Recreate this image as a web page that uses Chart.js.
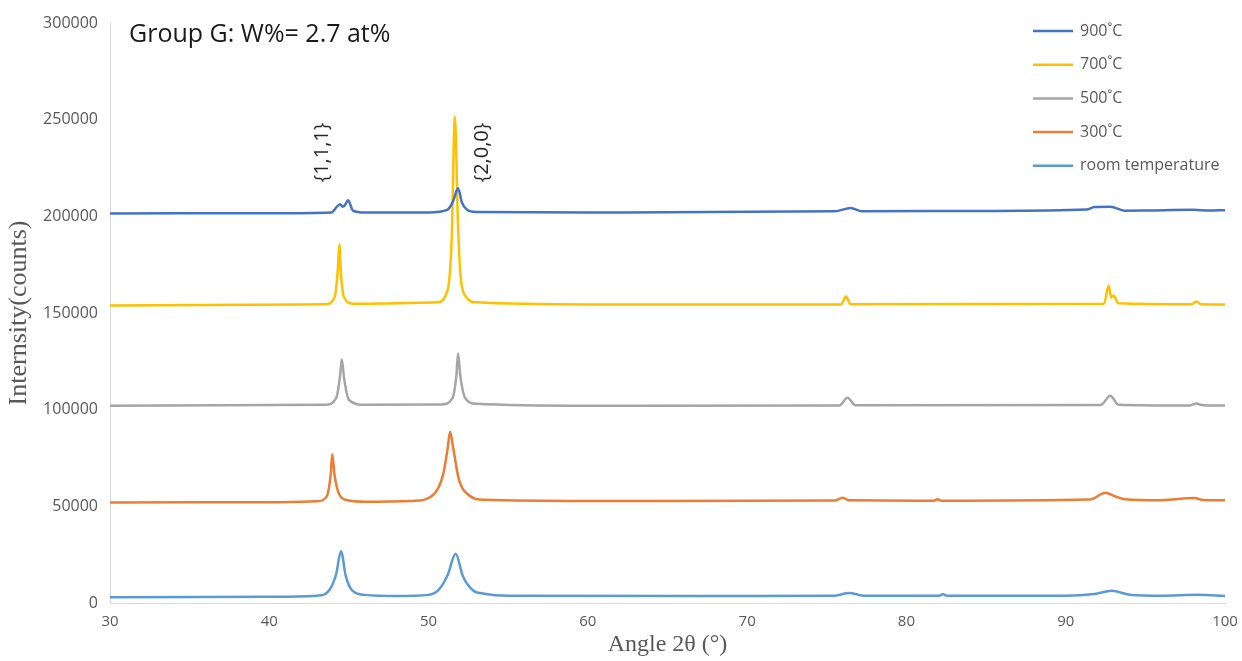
<!DOCTYPE html>
<html>
<head>
<meta charset="utf-8">
<script src="https://cdn.jsdelivr.net/npm/chart.js@4.4.1/dist/chart.umd.min.js"></script>
<style>
  html, body { margin: 0; padding: 0; background: #fff; }
  #wrap { width: 1242px; height: 661px; position: relative; }
</style>
</head>
<body>
<div id="wrap"><canvas id="xrd"></canvas></div>
<script>
// XRD patterns (angle 2θ in degrees, intensity in counts)
const rtAngle = [30, 40, 43.0, 43.8, 44.2, 44.5, 44.8, 45.2, 46.0, 48, 50.0, 50.6, 51.2, 51.7, 52.15, 52.8, 53.5, 55, 70, 75.5, 76.4, 77.3, 82.0, 82.3, 82.6, 90, 91.8, 92.9, 94.0, 96, 98.3, 100];
const rtCounts = [3000, 3200, 3800, 7000, 15000, 26800, 14000, 6500, 4200, 3600, 4200, 6500, 14500, 25500, 14000, 6500, 4800, 3800, 3600, 3800, 5200, 3800, 3700, 4500, 3700, 3700, 4600, 6300, 4300, 3800, 4300, 3600];

const t300Angle = [30, 40, 43.0, 43.6, 43.85, 43.95, 44.1, 44.4, 45.0, 46, 49.0, 50.3, 50.9, 51.2, 51.35, 51.55, 51.9, 52.5, 53.5, 60, 75.5, 76.0, 76.4, 81.7, 81.95, 82.2, 91.5, 92.5, 93.0, 93.7, 96, 98.1, 98.6, 100];
const t300Counts = [52000, 52100, 52600, 55000, 66000, 77000, 66000, 56000, 53000, 52400, 52800, 56000, 66000, 80000, 88600, 80000, 64000, 56000, 53400, 52800, 53000, 54500, 53100, 52900, 53600, 52900, 53500, 57000, 55500, 53700, 53200, 54300, 53300, 53200];

const t500Angle = [30, 43.5, 44.2, 44.45, 44.55, 44.7, 45.0, 46, 50.8, 51.5, 51.75, 51.85, 52.0, 52.3, 53, 60, 75.8, 76.3, 76.8, 92.2, 92.8, 93.3, 97.8, 98.2, 98.6, 100];
const t500Counts = [102000, 102500, 106000, 118000, 126000, 116000, 105000, 102500, 102700, 106000, 118000, 129000, 117000, 106000, 103000, 102000, 102200, 106200, 102300, 102400, 107200, 102600, 102200, 103200, 102300, 102200];

const t700Angle = [30, 43.5, 44.1, 44.3, 44.4, 44.5, 44.7, 45.3, 50.5, 51.2, 51.45, 51.65, 51.85, 52.0, 52.3, 53, 60, 75.9, 76.2, 76.5, 92.4, 92.7, 92.85, 93.0, 93.3, 97.9, 98.2, 98.5, 100];
const t700Counts = [153900, 154500, 158000, 172000, 185500, 170000, 158000, 154800, 155500, 162000, 188000, 251500, 195000, 170000, 159000, 155500, 154400, 154400, 158500, 154500, 154800, 164200, 158000, 159000, 155000, 154500, 156000, 154500, 154400];

const t900Angle = [30, 40, 43.9, 44.25, 44.45, 44.6, 44.75, 44.95, 45.25, 46, 50, 51.2, 51.55, 51.85, 52.1, 52.4, 53, 60, 75.5, 76.5, 77.2, 85, 91.3, 91.8, 92.8, 93.7, 95, 98, 99, 100];
const t900Counts = [201500, 201600, 202000, 205000, 206200, 205000, 205800, 208300, 203000, 202000, 202000, 203500, 208000, 214500, 207000, 203500, 202200, 202000, 202600, 204300, 202600, 202800, 203500, 204800, 205000, 202900, 203000, 203400, 203000, 203200];

const seriesLabels = ['900˚C', '700˚C', '500˚C', '300˚C', 'room temperature'];
const seriesColors = ['#4472C4', '#FFC000', '#A5A5A5', '#ED7D31', '#5B9BD5'];
const xTicks = [30, 40, 50, 60, 70, 80, 90, 100];
const yTicks = [0, 50000, 100000, 150000, 200000, 250000, 300000];
const chartTitle = 'Group G: W%= 2.7 at%';
const peakLabels = [{ text: '{1,1,1}', x: 43.3 }, { text: '{2,0,0}', x: 53.4 }];

function toPoints(xs, ys) {
  return xs.map((x, i) => ({ x: x, y: ys[i] }));
}

const allAngles = [t900Angle, t700Angle, t500Angle, t300Angle, rtAngle];
const allCounts = [t900Counts, t700Counts, t500Counts, t300Counts, rtCounts];

const datasets = seriesLabels.map((label, i) => ({
  label: label,
  data: toPoints(allAngles[i], allCounts[i]),
  borderColor: seriesColors[i],
  backgroundColor: seriesColors[i],
  borderWidth: 2.5,
  pointRadius: 0,
  fill: false,
  cubicInterpolationMode: 'monotone'
}));

// title, peak labels and the legend column are painted on top of the chart
const overlay = {
  id: 'overlay',
  afterDraw(chart) {
    const ctx = chart.ctx;
    const xs = chart.scales.x, ys = chart.scales.y;
    ctx.save();

    ctx.fillStyle = '#1a1a1a';
    ctx.font = '25px "Open Sans"';
    ctx.textBaseline = 'middle';
    ctx.textAlign = 'left';
    ctx.fillText(chartTitle, 129, 35);

    ctx.font = '20px "Open Sans"';
    ctx.fillStyle = '#262626';
    ctx.textAlign = 'center';
    peakLabels.forEach(p => {
      ctx.save();
      ctx.translate(xs.getPixelForValue(p.x), ys.getPixelForValue(233000));
      ctx.rotate(-Math.PI / 2);
      ctx.fillText(p.text, 0, 0);
      ctx.restore();
    });

    ctx.font = '16px "Open Sans"';
    ctx.textAlign = 'left';
    chart.data.datasets.forEach((ds, i) => {
      const y = 31 + i * 33.7;
      ctx.strokeStyle = ds.borderColor;
      ctx.lineWidth = 2.5;
      ctx.beginPath();
      ctx.moveTo(1033, y);
      ctx.lineTo(1073, y);
      ctx.stroke();
      ctx.fillStyle = '#595959';
      ctx.fillText(ds.label, 1080, y);
    });
    ctx.restore();
  }
};

new Chart(document.getElementById('xrd').getContext('2d'), {
  type: 'line',
  data: { datasets: datasets },
  options: {
    responsive: true,
    maintainAspectRatio: false,
    animation: false,
    layout: { padding: { left: 0, right: 17, top: 23, bottom: 0 } },
    plugins: {
      legend: { display: false },
      tooltip: { enabled: false }
    },
    scales: {
      x: {
        type: 'linear',
        min: 30,
        max: 100,
        afterFit: s => { s.height = 58; s.paddingRight = 0; s.paddingLeft = 0; },
        afterBuildTicks: s => { s.ticks = xTicks.map(v => ({ value: v })); },
        grid: { display: false, drawTicks: false },
        border: { color: '#D9D9D9', width: 1 },
        ticks: { color: '#595959', font: { family: '"Open Sans"', size: 15 }, padding: 10, maxRotation: 0 },
        title: {
          display: true,
          text: 'Angle 2θ (°)',
          color: '#595959',
          font: { family: '"Liberation Serif"', size: 24 },
          padding: { top: 0, bottom: 2 }
        }
      },
      y: {
        min: 0,
        max: 300000,
        afterFit: s => { s.width = 110; },
        afterBuildTicks: s => { s.ticks = yTicks.map(v => ({ value: v })); },
        grid: { display: false, drawTicks: false },
        border: { color: '#D9D9D9', width: 1 },
        ticks: { color: '#595959', font: { family: '"Open Sans"', size: 16 }, padding: 12, callback: v => String(v) },
        title: {
          display: true,
          text: 'Internsity(counts)',
          color: '#595959',
          font: { family: '"Liberation Serif"', size: 26 },
          padding: { top: 4, bottom: 0 }
        }
      }
    }
  },
  plugins: [overlay]
});
</script>
</body>
</html>
